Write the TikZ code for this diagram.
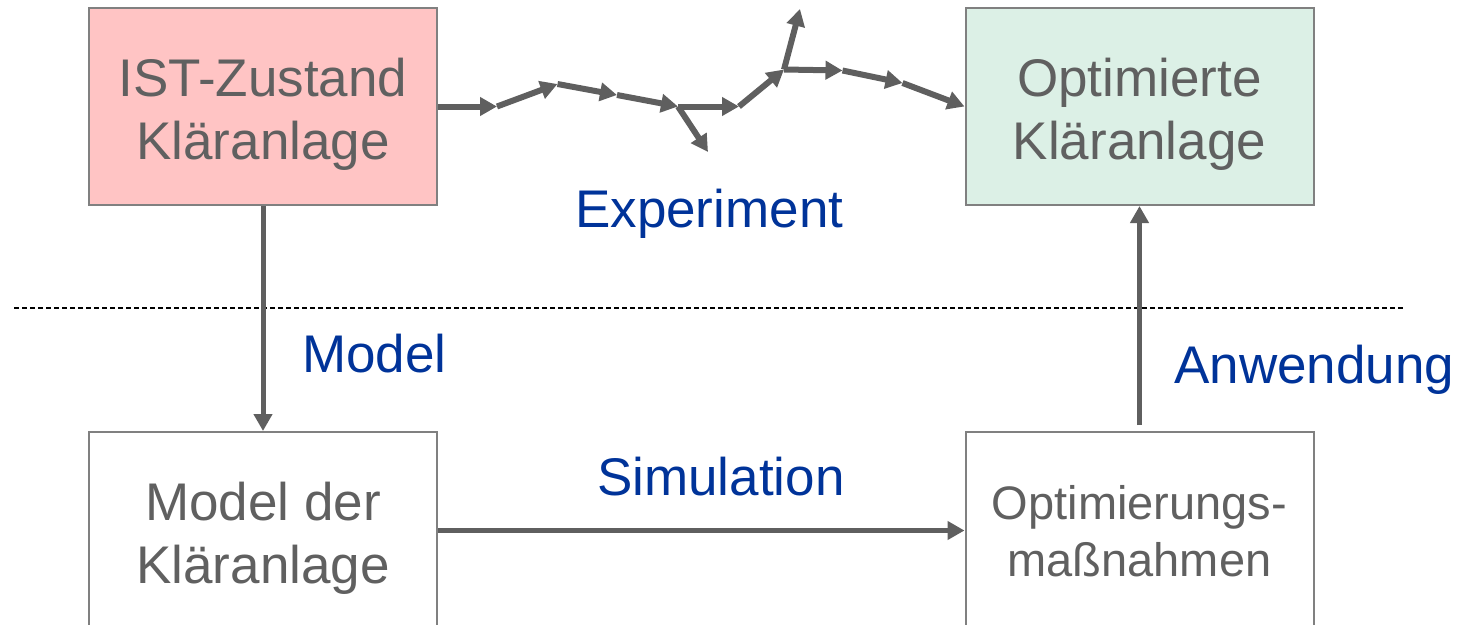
\documentclass[tikz,border=0pt]{standalone}
\usepackage{fontspec}
\setmainfont{Liberation Sans}
\usetikzlibrary{arrows.meta}
\definecolor{boxgray}{HTML}{808080}
\definecolor{textgray}{HTML}{606060}
\definecolor{linkgray}{HTML}{5F5F5F}
\definecolor{labelblue}{HTML}{003399}
\definecolor{istpink}{HTML}{FFC4C4}
\definecolor{optgreen}{HTML}{DCF0E6}
\begin{document}
\begin{tikzpicture}[x=1pt,y=-1pt,
  stagebox/.style={draw=boxgray, line width=2pt, minimum width=348pt,
    minimum height=197pt, inner sep=0pt},
  boxtext/.style={text=textgray, align=center, inner sep=0pt,
    font=\fontsize{53}{63}\selectfont},
  smalltext/.style={text=textgray, align=center, inner sep=0pt,
    font=\fontsize{47}{57}\selectfont},
  steplabel/.style={text=labelblue, inner sep=0pt, anchor=base west,
    font=\fontsize{53}{63}\selectfont},
  link/.style={draw=linkgray, line width=6pt,
    -{Triangle[length=17pt,width=18pt]}},
  vlink/.style={draw=linkgray, line width=5pt,
    -{Triangle[length=17pt,width=18pt]}},
]
\useasboundingbox (0,0) rectangle (1464,624);
\clip (0,0) rectangle (1464,624);

% the four stages
\node[stagebox, fill=istpink]  (ist)   at (263,106.5)  {};
\node[stagebox, fill=optgreen] (opt)   at (1139.5,106.5) {};
\node[stagebox, fill=white]    (model) at (263,530.5)  {};
\node[stagebox, fill=white]    (meas)  at (1139.5,530.5) {};

\node[boxtext]   (isttext)   at (263,114)    {IST-Zustand\\Kläranlage};
\node[boxtext]   (opttext)   at (1139.5,114) {Optimierte\\Kläranlage};
\node[boxtext]   (modeltext) at (263,538)    {Model der\\Kläranlage};
\node[smalltext] (meastext)  at (1139.5,531) {Optimierungs-\\maßnahmen};

% separator between experiment and simulation level
\draw[black, line width=2pt, dash pattern=on 5pt off 3pt] (14,308) -- (1403,308);

% experimental path: trial and error
\coordinate (k1) at (497,106.5);
\coordinate (k2) at (557.5,84);
\coordinate (k3) at (617,95);
\coordinate (k4) at (678,106.5);
\coordinate (k5) at (739,106.5);
\coordinate (k6) at (784,69.5);
\coordinate (k7) at (842.5,70.5);
\coordinate (k8) at (902.5,83);
\coordinate (b1) at (708,152);
\coordinate (b2) at (800,9);
\draw[link] (ist.east) -- (k1);
\draw[link] (k1) -- (k2);
\draw[link] (k2) -- (k3);
\draw[link] (k3) -- (k4);
\draw[link] (k4) -- (b1);
\draw[link] (k4) -- (k5);
\draw[link] (k5) -- (k6);
\draw[link] (k6) -- (b2);
\draw[link] (k6) -- (k7);
\draw[link] (k7) -- (k8);
\draw[link] (k8) -- (opt.west);

% modelling, simulation and application
\draw[vlink] (ist.south) -- (model.north);
\draw[vlink] (model.east) -- (meas.west);
\coordinate (appstart) at (1139.5,425);
\draw[vlink] (appstart) -- (opt.south);

% step labels
\node[steplabel] (lexp) at (575,227) {Experiment};
\node[steplabel] (lmod) at (302,372) {Model};
\node[steplabel] (lapp) at (1174,383) {Anwendung};
\node[steplabel] (lsim) at (597,495) {Simulation};
\end{tikzpicture}
\end{document}
